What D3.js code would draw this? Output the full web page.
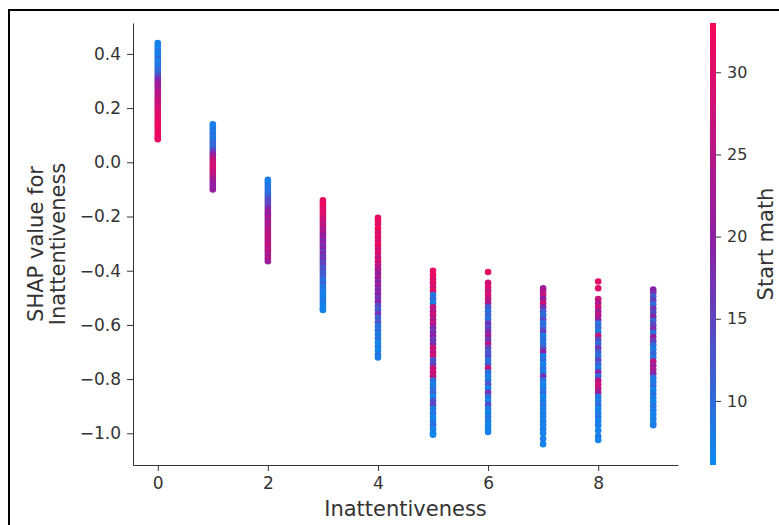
<!DOCTYPE html>
<html>
<head>
<meta charset="utf-8">
<script src="https://cdn.jsdelivr.net/npm/d3@7"></script>
<style>
  body { margin: 0; background: #fff; }
  text { font-family: "DejaVu Sans", sans-serif; }
</style>
</head>
<body>
<div id="chart"></div>
<script>
// Inattentiveness level (x) for each column of points
const inattentiveness = [0, 1, 2, 3, 4, 5, 6, 7, 8, 9];

// [SHAP value, Start math] pairs, one array per Inattentiveness level
const points0 = [[0.44,7],[0.43,8],[0.42,6.5],[0.41,9],[0.40,7],[0.39,8],[0.38,10],[0.37,7],[0.36,9],[0.35,8],[0.34,11],[0.33,10],[0.32,13],[0.31,16],[0.30,19],[0.29,21],[0.28,23],[0.27,22],[0.26,24],[0.25,26],[0.24,25],[0.23,27],[0.22,28],[0.21,27],[0.20,29],[0.19,30],[0.18,29],[0.17,31],[0.16,30],[0.15,32],[0.14,31],[0.13,33],[0.12,32],[0.11,31],[0.10,33],[0.09,32],[0.085,31]];
const points1 = [[0.14,8],[0.13,7],[0.12,9],[0.11,8],[0.10,10],[0.09,8],[0.08,9],[0.07,11],[0.06,10],[0.05,12],[0.04,15],[0.03,19],[0.02,23],[0.01,26],[0.0,28],[-0.01,27],[-0.02,29],[-0.03,28],[-0.04,27],[-0.05,26],[-0.06,24],[-0.07,22],[-0.08,21],[-0.09,20],[-0.10,21]];
const points2 = [[-0.065,8],[-0.075,7],[-0.085,9],[-0.095,8],[-0.105,10],[-0.115,9],[-0.125,11],[-0.135,13],[-0.145,15],[-0.155,14],[-0.165,17],[-0.175,19],[-0.185,22],[-0.195,20],[-0.205,24],[-0.215,21],[-0.225,25],[-0.235,22],[-0.245,26],[-0.255,24],[-0.265,27],[-0.275,25],[-0.285,26],[-0.295,24],[-0.305,27],[-0.315,25],[-0.325,26],[-0.335,24],[-0.345,23],[-0.355,25],[-0.365,22]];
const points3 = [[-0.14,32],[-0.15,31],[-0.16,33],[-0.17,30],[-0.18,31],[-0.19,29],[-0.20,30],[-0.21,27],[-0.22,28],[-0.23,25],[-0.24,27],[-0.25,22],[-0.26,25],[-0.27,20],[-0.28,23],[-0.29,18],[-0.30,21],[-0.31,17],[-0.32,20],[-0.33,16],[-0.34,19],[-0.35,15],[-0.36,18],[-0.37,14],[-0.38,16],[-0.39,12],[-0.40,14],[-0.41,11],[-0.42,13],[-0.43,10],[-0.44,9],[-0.45,11],[-0.46,8],[-0.47,9],[-0.48,7],[-0.49,8],[-0.50,7],[-0.51,9],[-0.52,8],[-0.53,7],[-0.54,8],[-0.545,7]];
const points4 = [[-0.205,31],[-0.215,32],[-0.23,30],[-0.245,33],[-0.26,29],[-0.275,31],[-0.29,30],[-0.305,32],[-0.32,28],[-0.335,30],[-0.35,27],[-0.365,29],[-0.38,26],[-0.395,24],[-0.41,21],[-0.425,23],[-0.44,19],[-0.455,22],[-0.47,18],[-0.485,20],[-0.50,17],[-0.515,19],[-0.53,14],[-0.545,12],[-0.56,17],[-0.575,11],[-0.59,13],[-0.605,9],[-0.62,10],[-0.635,8],[-0.65,9],[-0.665,7],[-0.68,8],[-0.695,7],[-0.71,9],[-0.72,8]];
const points5 = [[-0.40,31],[-0.415,32],[-0.43,30],[-0.445,31],[-0.46,29],[-0.475,30],[-0.49,9],[-0.505,10],[-0.52,8],[-0.535,27],[-0.55,25],[-0.565,28],[-0.58,24],[-0.595,26],[-0.61,19],[-0.625,17],[-0.64,20],[-0.655,16],[-0.67,18],[-0.685,28],[-0.70,26],[-0.715,29],[-0.73,13],[-0.745,15],[-0.76,27],[-0.775,29],[-0.79,26],[-0.805,10],[-0.82,8],[-0.835,9],[-0.85,11],[-0.865,7],[-0.88,13],[-0.895,15],[-0.91,8],[-0.925,9],[-0.94,7],[-0.955,8],[-0.97,10],[-0.985,7],[-1.0,8],[-1.005,7]];
const points6 = [[-0.405,31],[-0.445,28],[-0.46,30],[-0.475,27],[-0.49,29],[-0.505,26],[-0.52,24],[-0.535,12],[-0.55,10],[-0.565,11],[-0.58,9],[-0.595,17],[-0.61,14],[-0.625,18],[-0.64,22],[-0.655,16],[-0.67,25],[-0.685,15],[-0.70,12],[-0.715,14],[-0.73,9],[-0.745,11],[-0.76,27],[-0.775,10],[-0.79,8],[-0.805,9],[-0.82,13],[-0.835,7],[-0.85,17],[-0.865,10],[-0.88,7],[-0.895,14],[-0.91,8],[-0.925,7],[-0.94,9],[-0.955,8],[-0.97,7],[-0.985,8],[-0.995,7]];
const points7 = [[-0.465,22],[-0.475,24],[-0.49,27],[-0.505,20],[-0.52,28],[-0.535,18],[-0.55,12],[-0.565,10],[-0.58,14],[-0.595,9],[-0.61,11],[-0.625,16],[-0.64,8],[-0.655,10],[-0.67,9],[-0.685,13],[-0.70,20],[-0.715,8],[-0.73,10],[-0.745,7],[-0.76,9],[-0.775,8],[-0.79,17],[-0.805,9],[-0.82,7],[-0.835,8],[-0.85,10],[-0.865,7],[-0.88,8],[-0.895,9],[-0.91,7],[-0.925,8],[-0.94,7],[-0.955,8],[-0.97,7],[-0.985,8],[-1.0,7],[-1.02,8],[-1.04,7]];
const points8 = [[-0.44,31],[-0.465,30],[-0.505,27],[-0.52,24],[-0.535,28],[-0.55,22],[-0.565,26],[-0.58,20],[-0.595,9],[-0.61,11],[-0.625,8],[-0.64,27],[-0.655,14],[-0.67,10],[-0.685,17],[-0.70,12],[-0.715,9],[-0.73,15],[-0.745,11],[-0.76,8],[-0.775,19],[-0.79,10],[-0.805,25],[-0.82,28],[-0.835,26],[-0.85,22],[-0.865,9],[-0.88,8],[-0.895,10],[-0.91,7],[-0.925,8],[-0.94,9],[-0.955,7],[-0.97,8],[-0.99,7],[-1.01,8],[-1.025,7]];
const points9 = [[-0.47,20],[-0.48,18],[-0.495,12],[-0.51,16],[-0.525,10],[-0.54,17],[-0.555,14],[-0.57,19],[-0.585,11],[-0.60,15],[-0.615,18],[-0.63,9],[-0.645,21],[-0.66,16],[-0.675,10],[-0.69,8],[-0.705,11],[-0.72,9],[-0.735,26],[-0.75,22],[-0.765,24],[-0.78,19],[-0.795,9],[-0.81,8],[-0.825,10],[-0.84,7],[-0.855,9],[-0.87,8],[-0.885,7],[-0.90,9],[-0.915,8],[-0.93,7],[-0.945,8],[-0.96,7],[-0.97,8]];

const columns = [points0, points1, points2, points3, points4, points5, points6, points7, points8, points9];

const xTicks = [0, 2, 4, 6, 8];
const yTicks = [0.4, 0.2, 0.0, -0.2, -0.4, -0.6, -0.8, -1.0];
const colorTicks = [10, 15, 20, 25, 30];

const W = 779, H = 525;
const axisColor = "#333333";
const plotLeft = 133, plotRight = 678, plotTop = 23, plotBottom = 465;

const svg = d3.select("#chart").append("svg")
  .attr("width", W)
  .attr("height", H);

// outer frame of the screenshot
svg.append("rect")
  .attr("x", 9).attr("y", 10)
  .attr("width", 800).attr("height", 600)
  .attr("fill", "none")
  .attr("stroke", "#000")
  .attr("stroke-width", 2);

const x = d3.scaleLinear().domain([-0.45, 9.45]).range([plotLeft, plotRight]);
const y = d3.scaleLinear().domain([-1.117, 0.514]).range([plotBottom, plotTop]);
// blue -> purple -> red, like shap's red_blue map
const color = d3.scaleSequential(d3.piecewise(d3.interpolateRgb, ["#0a8bf0", "#8a20a6", "#f5085a"]))
  .domain([6.1, 33.0]);

const data = [];
columns.forEach((col, i) => {
  col.forEach(([shap, math]) => data.push({feat: inattentiveness[i], shap, math}));
});

svg.append("g")
  .selectAll("circle")
  .data(data)
  .join("circle")
  .attr("cx", d => x(d.feat))
  .attr("cy", d => y(d.shap))
  .attr("r", 3.3)
  .attr("fill", d => color(d.math));

// axes
const xAxis = svg.append("g")
  .attr("transform", `translate(0,${plotBottom})`)
  .call(d3.axisBottom(x).tickValues(xTicks).tickFormat(d3.format("d")).tickSize(6).tickPadding(6).tickSizeOuter(0));

const yAxis = svg.append("g")
  .attr("transform", `translate(${plotLeft},0)`)
  .call(d3.axisLeft(y).tickValues(yTicks).tickFormat(d3.format(".1f")).tickSize(6).tickPadding(6).tickSizeOuter(0));

[xAxis, yAxis].forEach(g => {
  g.select(".domain").attr("stroke", axisColor);
  g.selectAll(".tick line").attr("stroke", axisColor);
  g.selectAll(".tick text")
    .attr("fill", axisColor)
    .style("font-size", "17px")
    .style("font-family", "DejaVu Sans, sans-serif");
});

svg.append("text")
  .attr("x", (plotLeft + plotRight) / 2)
  .attr("y", 516)
  .attr("text-anchor", "middle")
  .attr("fill", axisColor)
  .style("font-size", "21px")
  .text("Inattentiveness");

const yLabel = svg.append("text")
  .attr("transform", `translate(43,${(plotTop + plotBottom) / 2}) rotate(-90)`)
  .attr("text-anchor", "middle")
  .attr("fill", axisColor)
  .style("font-size", "21px");
yLabel.append("tspan").attr("x", 0).attr("y", 0).text("SHAP value for");
yLabel.append("tspan").attr("x", 0).attr("y", 22).text("Inattentiveness");

// colorbar
const cbX = 710, cbW = 6;
const cbScale = d3.scaleLinear().domain(color.domain()).range([plotBottom, plotTop]);

const grad = svg.append("defs").append("linearGradient")
  .attr("id", "cbGrad")
  .attr("x1", 0).attr("y1", 1)
  .attr("x2", 0).attr("y2", 0);

grad.selectAll("stop")
  .data(d3.range(0, 1.0001, 0.05))
  .join("stop")
  .attr("offset", t => t)
  .attr("stop-color", t => color(color.domain()[0] + t * (color.domain()[1] - color.domain()[0])));

svg.append("rect")
  .attr("x", cbX)
  .attr("y", plotTop)
  .attr("width", cbW)
  .attr("height", plotBottom - plotTop)
  .attr("fill", "url(#cbGrad)");

const cbAxis = svg.append("g")
  .attr("transform", `translate(${cbX + cbW},0)`)
  .call(d3.axisRight(cbScale).tickValues(colorTicks).tickSize(5).tickPadding(6));

cbAxis.select(".domain").remove();
cbAxis.selectAll(".tick line").attr("stroke", axisColor);
cbAxis.selectAll(".tick text")
  .attr("fill", axisColor)
  .style("font-size", "16px")
  .style("font-family", "DejaVu Sans, sans-serif");

svg.append("text")
  .attr("transform", `translate(773,${(plotTop + plotBottom) / 2}) rotate(-90)`)
  .attr("text-anchor", "middle")
  .attr("fill", axisColor)
  .style("font-size", "21px")
  .text("Start math");
</script>
</body>
</html>
